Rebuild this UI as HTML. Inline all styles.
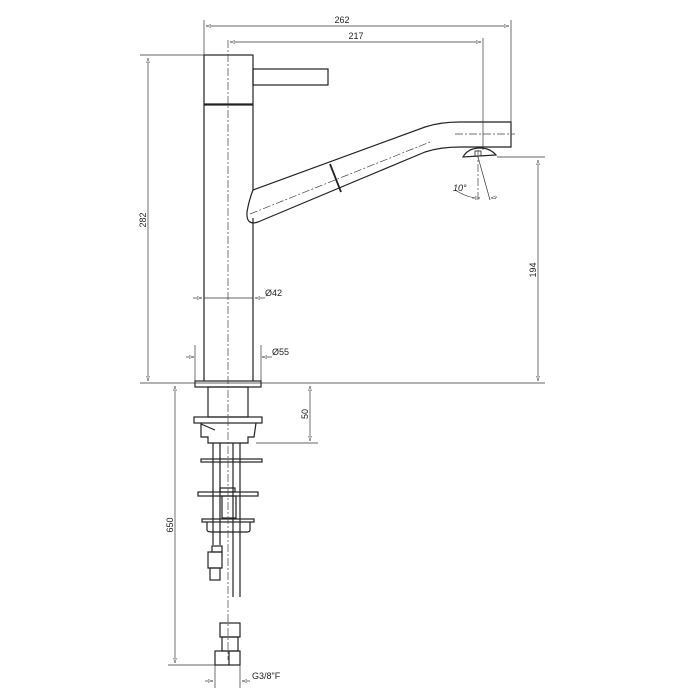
<!DOCTYPE html>
<html><head><meta charset="utf-8"><style>html,body{margin:0;padding:0;background:#fff}svg{display:block}text{font-family:"Liberation Sans",sans-serif;font-size:9px;fill:#222}</style></head>
<body>
<svg width="700" height="700" viewBox="0 0 700 700" xmlns="http://www.w3.org/2000/svg">
<defs>
<marker id="a" markerWidth="8" markerHeight="6" refX="7" refY="3" orient="auto-start-reverse"><path d="M0,1 L7,3 L0,5 Z" fill="#fff" stroke="#333" stroke-width="0.7"/></marker>
</defs>
<g stroke="#222" stroke-width="1.2" fill="none">
<!-- column -->
<rect x="204" y="55" width="49" height="50"/>
<line x1="204" y1="105" x2="204" y2="381"/>
<line x1="253" y1="105" x2="253" y2="190"/>
<line x1="253" y1="218" x2="253" y2="381"/>
<line x1="204" y1="104" x2="253" y2="104"/>
<!-- handle -->
<rect x="253" y="69" width="75" height="16"/>
<!-- spout -->
<path d="M253,190 L425,127 Q440,122 460,122 L511,122 L511,147 L460,147 Q440,147 425,152 L258,222 Q246,226 247,212 Q249,200 253,190"/>
<line x1="330" y1="164" x2="341" y2="192" stroke-width="1.8"/>
<path d="M463,157 Q468,148 480,148 Q490,148 496,155 Z"/>
<rect x="475" y="151" width="6" height="5" stroke-width="0.8"/>
<!-- base -->
<rect x="195" y="381" width="66" height="6"/>
<rect x="208" y="387" width="40" height="30"/>
<rect x="194" y="417" width="68" height="6"/>
<path d="M201,423 L201,437 L208,437 L208,443 L248,443 L248,437 L254,437 L256,423"/>
<line x1="201" y1="424" x2="215" y2="430"/>
<!-- rods -->
<line x1="213" y1="443" x2="213" y2="545"/>
<line x1="220" y1="443" x2="220" y2="545"/>
<line x1="233" y1="443" x2="233" y2="597"/>
<line x1="240" y1="443" x2="240" y2="597"/>
<rect x="201" y="459" width="61" height="3"/>
<rect x="198" y="492" width="60" height="4"/>
<rect x="220" y="488" width="15" height="4"/>
<rect x="222" y="496" width="14" height="22"/>
<rect x="202" y="519" width="52" height="3"/>
<path d="M207,522 L207,530 Q207,532 212,532 L247,532 Q250,532 250,530 L250,522"/>
<rect x="212" y="546" width="10" height="6"/>
<rect x="208" y="552" width="14" height="16"/>
<rect x="210" y="568" width="10" height="12"/>
<rect x="220" y="623" width="20" height="14"/>
<rect x="222" y="637" width="16" height="14"/>
<rect x="215" y="651" width="25" height="14"/>
<line x1="229" y1="651" x2="229" y2="665"/>
</g>
<!-- centre lines -->
<g stroke="#444" stroke-width="0.7" fill="none" stroke-dasharray="8,2,2,2">
<line x1="228" y1="40" x2="228" y2="660"/>
<line x1="250" y1="214" x2="430" y2="142"/>
<line x1="455" y1="134" x2="515" y2="134"/>
<line x1="478" y1="150" x2="478" y2="200"/>
</g>
<!-- dimensions -->
<g stroke="#333" stroke-width="0.7" fill="none">
<line x1="204" y1="20" x2="204" y2="55"/>
<line x1="511" y1="20" x2="511" y2="122"/>
<line x1="483" y1="38" x2="483" y2="150"/>
<line x1="206" y1="26" x2="509" y2="26" marker-start="url(#a)" marker-end="url(#a)"/>
<line x1="230" y1="42" x2="481" y2="42" marker-start="url(#a)" marker-end="url(#a)"/>
<line x1="140" y1="55" x2="204" y2="55"/>
<line x1="148" y1="58" x2="148" y2="381" marker-start="url(#a)" marker-end="url(#a)"/>
<line x1="140" y1="383" x2="545" y2="383"/>
<line x1="497" y1="157" x2="545" y2="157"/>
<line x1="538" y1="160" x2="538" y2="381" marker-start="url(#a)" marker-end="url(#a)"/>
<line x1="193" y1="298" x2="202" y2="298" marker-end="url(#a)"/>
<line x1="265" y1="298" x2="255" y2="298" marker-end="url(#a)"/>
<line x1="204" y1="298" x2="253" y2="298"/>
<line x1="186" y1="357" x2="194" y2="357" marker-end="url(#a)"/>
<line x1="272" y1="357" x2="262" y2="357" marker-end="url(#a)"/>
<line x1="195" y1="345" x2="195" y2="381"/>
<line x1="261" y1="345" x2="261" y2="381"/>
<line x1="310" y1="386" x2="310" y2="441" marker-start="url(#a)" marker-end="url(#a)"/>
<line x1="256" y1="443" x2="318" y2="443"/>
<line x1="175" y1="386" x2="175" y2="663" marker-start="url(#a)" marker-end="url(#a)"/>
<line x1="168" y1="665" x2="215" y2="665"/>
<line x1="215" y1="665" x2="215" y2="688"/>
<line x1="240" y1="665" x2="240" y2="688"/>
<line x1="205" y1="681" x2="213" y2="681" marker-end="url(#a)"/>
<line x1="250" y1="681" x2="242" y2="681" marker-end="url(#a)"/>
<line x1="478" y1="157" x2="490" y2="200"/>
<path d="M455,190 Q468,198 478,198" />
<line x1="472" y1="198" x2="480" y2="198" marker-end="url(#a)"/>
<line x1="497" y1="197" x2="491" y2="198" marker-end="url(#a)"/>
</g>
<text x="342" y="23" text-anchor="middle">262</text>
<text x="356" y="39" text-anchor="middle">217</text>
<text transform="translate(146,220) rotate(-90)" text-anchor="middle">282</text>
<text transform="translate(536,270) rotate(-90)" text-anchor="middle">194</text>
<text transform="translate(308,414) rotate(-90)" text-anchor="middle">50</text>
<text transform="translate(173,525) rotate(-90)" text-anchor="middle">650</text>
<text x="265" y="296">Ø42</text>
<text x="272" y="355">Ø55</text>
<text x="453" y="191" font-style="italic">10°</text>
<text x="252" y="679">G3/8"F</text>
</svg>
</body></html>
